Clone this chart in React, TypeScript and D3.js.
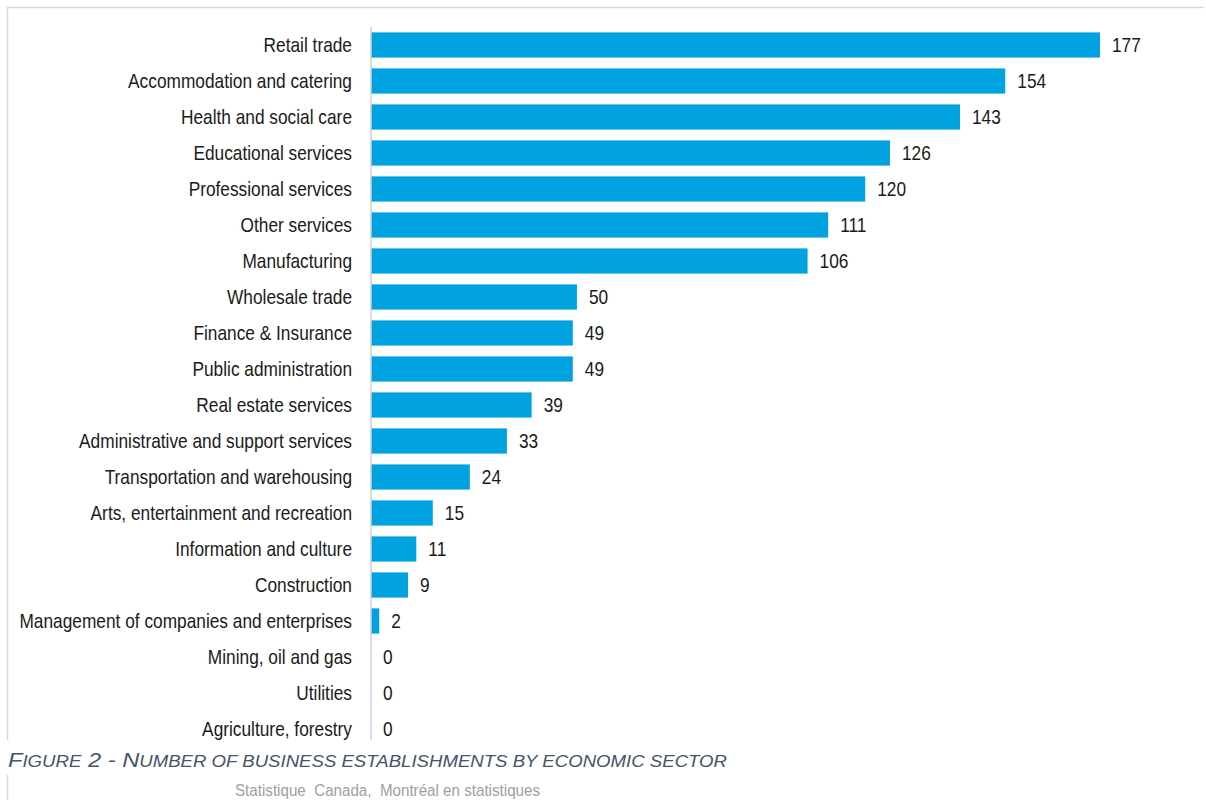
import React from "react";
import * as d3 from "d3";

const categories = [
  "Retail trade",
  "Accommodation and catering ",
  "Health and social care",
  "Educational services",
  "Professional services",
  "Other services",
  "Manufacturing",
  "Wholesale trade",
  "Finance & Insurance",
  "Public administration",
  "Real estate services",
  "Administrative and support services",
  "Transportation and warehousing",
  "Arts, entertainment and recreation",
  "Information and culture",
  "Construction",
  "Management of companies and enterprises ",
  "Mining, oil and gas",
  "Utilities",
  "Agriculture, forestry",
];
const values = [177, 154, 143, 126, 120, 111, 106, 50, 49, 49, 39, 33, 24, 15, 11, 9, 2, 0, 0, 0];
const captionWords = ["Figure", "2", "-", "Number", "of", "business", "establishments", "by", "economic", "sector"];
const source = "Statistique  Canada,  Montréal en statistiques";

const W = 1206;
const H = 800;
const FONT = "'Liberation Sans', Arial, sans-serif";
const SX = 0.865;

export default function App() {
  const x0 = 371;
  const x = d3.scaleLinear().domain([0, 177]).range([x0, 1100]);
  const y = d3.scaleBand<string>().domain(categories).range([27, 747]).paddingInner(0.3).paddingOuter(0.15);
  const bw = y.bandwidth();
  const capSpans: React.ReactNode[] = [];
  captionWords.forEach((w, i) => {
    const first = w[0];
    const rest = w.slice(1).toUpperCase();
    const firstBig = first === first.toUpperCase();
    capSpans.push(
      <tspan key={`a${i}`} fontSize={firstBig ? 21 : 16.5}>
        {(i > 0 ? " " : "") + first.toUpperCase()}
      </tspan>
    );
    if (rest)
      capSpans.push(
        <tspan key={`b${i}`} fontSize={16.5}>
          {rest}
        </tspan>
      );
  });
  return (
    <svg width={W} height={H} style={{ position: "absolute", left: 0, top: 0, background: "#fff" }}>
      <line x1={7} y1={7.5} x2={1204} y2={7.5} stroke="#d9d9d9" strokeWidth={1.5} />
      <line x1={7.5} y1={7} x2={7.5} y2={740} stroke="#d9d9d9" strokeWidth={1.5} />
      <line x1={7.5} y1={775} x2={7.5} y2={800} stroke="#d9d9d9" strokeWidth={1.5} />
      {categories.map((c, i) => {
        const yc = (y(c) as number) + bw / 2;
        return (
          <g key={c}>
            {values[i] > 0 && (
              <rect x={x0} y={y(c)} width={x(values[i]) - x0} height={bw} fill="#00A3E0" />
            )}
            <text
              transform={`translate(352,${yc}) scale(${SX},1)`}
              dy="0.35em"
              textAnchor="end"
              fontFamily={FONT}
              fontSize={20}
              fill="#1a1a1a"
            >
              {c.trim()}
            </text>
            <text
              transform={`translate(${x(values[i]) + 12},${yc}) scale(${SX},1)`}
              dy="0.35em"
              fontFamily={FONT}
              fontSize={20}
              fill="#1a1a1a"
            >
              {values[i]}
            </text>
          </g>
        );
      })}
      <line x1={x0} y1={27} x2={x0} y2={740} stroke="#d0d0d0" strokeWidth={1.5} />
      <text
        x={8}
        y={767}
        fontFamily={FONT}
        fontStyle="italic"
        fill="#44546A"
        textLength={719}
        lengthAdjust="spacingAndGlyphs"
        style={{ whiteSpace: "pre" }}
      >
        {capSpans}
      </text>
      <text
        x={235}
        y={796}
        fontFamily={FONT}
        fontSize={16}
        fill="#a0a0a0"
        textLength={305}
        lengthAdjust="spacingAndGlyphs"
        style={{ whiteSpace: "pre" }}
      >
        {source}
      </text>
    </svg>
  );
}
